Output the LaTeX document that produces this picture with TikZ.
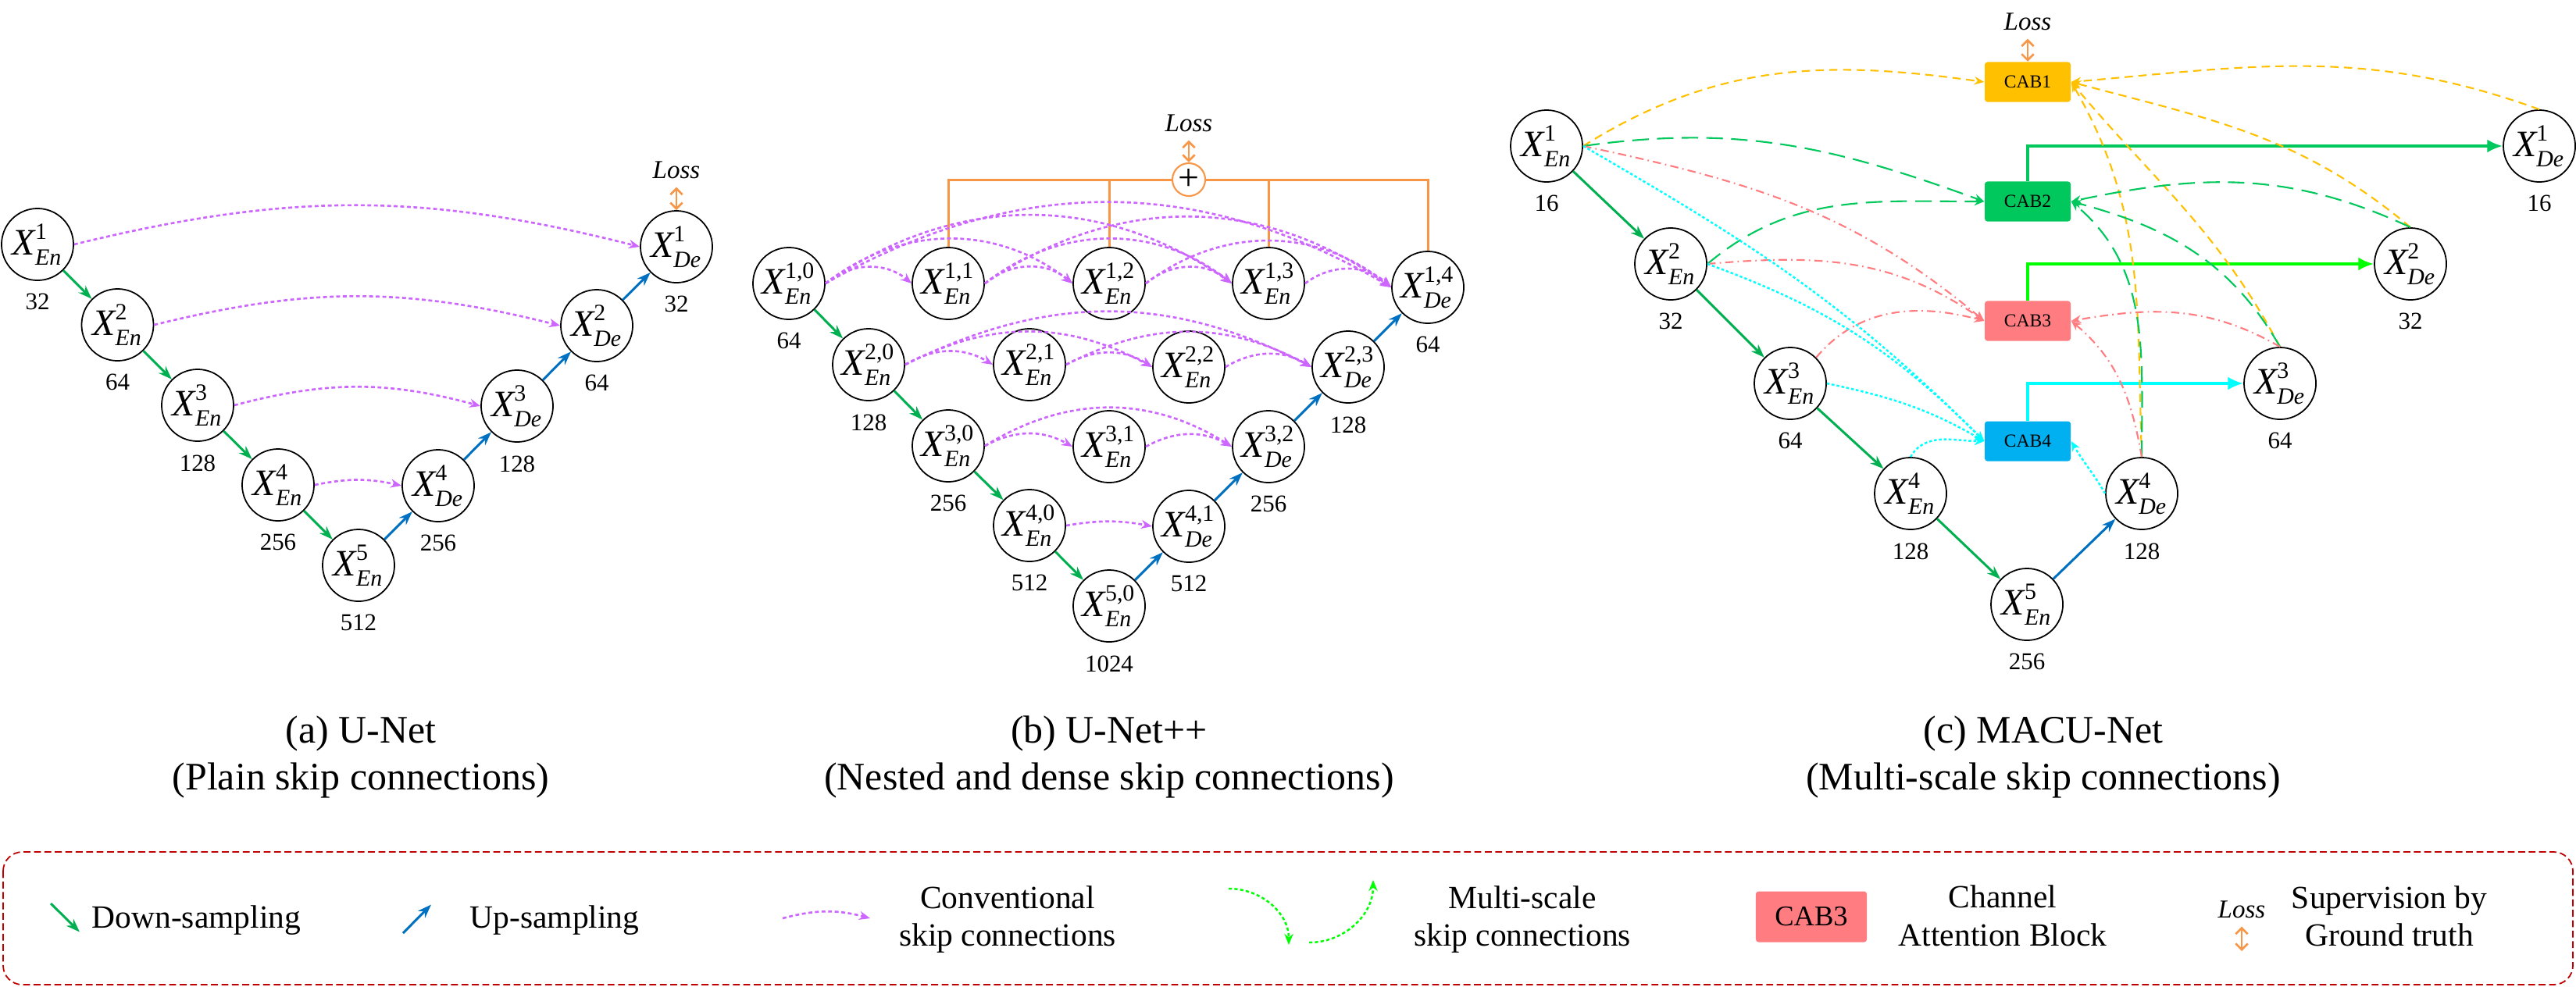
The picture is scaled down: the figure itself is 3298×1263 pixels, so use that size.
\documentclass[tikz,border=0pt]{standalone}
\usepackage{amsmath}
\usepackage{fontspec}
\setmainfont{Liberation Serif}
\usetikzlibrary{arrows.meta,positioning}
\DeclareMathSizes{13.6}{13.6}{8.5}{6.5}
\definecolor{dgreen}{HTML}{00B050}
\definecolor{dblue}{HTML}{0070C0}
\definecolor{violet1}{HTML}{CC66FF}
\definecolor{lossor}{HTML}{F79646}
\definecolor{cabor}{HTML}{FFC000}
\definecolor{cabgr}{HTML}{00C85C}
\definecolor{cabred}{HTML}{FF7C80}
\definecolor{cabbl}{HTML}{00B0F0}
\definecolor{brgreen}{HTML}{00FF00}
\definecolor{brcyan}{HTML}{00FFFF}
\definecolor{legred}{HTML}{C00000}
\newcommand{\xn}[2]{$\text{\itshape X}^{\text{#1}}_{\text{\itshape #2}}$}
\begin{document}
\begin{tikzpicture}[
x=0.01cm, y=0.01cm,
>=Stealth,
circ/.style={draw, circle, minimum size=0.92cm, inner sep=0pt, line width=0.5pt, font=\fontsize{13.6}{16}\selectfont},
num/.style={inner sep=1pt, font=\fontsize{8.8}{10}\selectfont},
downarr/.style={draw=dgreen, line width=0.85pt, -{Stealth[length=5pt,width=3.6pt]}},
uparr/.style={draw=dblue, line width=0.85pt, -{Stealth[length=5pt,width=3.6pt]}},
skiparr/.style={draw=violet1, line width=0.75pt, dash pattern=on 1.4pt off 1pt, -{Stealth[length=4pt,width=3.2pt]}},
loss/.style={inner sep=3pt, anchor=base, font=\itshape\fontsize{9.4}{11}\selectfont},
suparr/.style={draw=lossor, line width=0.75pt, {Straight Barb[length=2.2pt,width=4.4pt]}-{Straight Barb[length=2.2pt,width=4.4pt]}},
sumline/.style={draw=lossor, line width=0.85pt},
plus/.style={draw=lossor, circle, minimum size=0.42cm, inner sep=0pt, line width=0.6pt, font=\fontsize{13.6}{16}\selectfont},
cab/.style={rectangle, rounded corners=1pt, minimum width=1.1cm, minimum height=0.51cm, inner sep=0pt, font=\fontsize{6.7}{8}\selectfont},
cabout/.style={line width=1.1pt, -{Latex[length=5.6pt,width=4.8pt]}},
o1/.style={draw=cabor, line width=0.6pt, dash pattern=on 3pt off 2pt, -{Stealth[length=3.6pt,width=3pt]}},
g1/.style={draw=cabgr, line width=0.6pt, dash pattern=on 6pt off 3pt, -{Stealth[length=3.6pt,width=3pt]}},
r1/.style={draw=cabred, line width=0.6pt, dash pattern=on 3pt off 1.5pt on 0.5pt off 1.5pt, -{Stealth[length=3.6pt,width=3pt]}},
c1/.style={draw=brcyan, line width=0.7pt, dash pattern=on 1pt off 0.8pt, -{Stealth[length=3.6pt,width=3pt]}},
msarr/.style={draw=brgreen, line width=0.7pt, dash pattern=on 1.2pt off 0.9pt, -{Stealth[length=4pt,width=3.2pt]}},
legbox/.style={draw=legred, line width=0.5pt, dash pattern=on 2.5pt off 1.3pt, rounded corners=7pt},
legtxt/.style={inner sep=0pt, anchor=base, font=\fontsize{11.8}{13.5}\selectfont},
capt/.style={inner sep=0pt, anchor=base, font=\fontsize{14.2}{17}\selectfont}
]
\useasboundingbox (0,0) rectangle (3298,-1263);

%(a) U-Net
\node[circ] (ae1) at (48,-313) {\xn{1}{En}};
\node[circ] (ae2) at (150.5,-416) {\xn{2}{En}};
\node[circ] (ae3) at (253,-519) {\xn{3}{En}};
\node[circ] (ae4) at (356,-621) {\xn{4}{En}};
\node[circ] (ae5) at (459,-724) {\xn{5}{En}};
\node[circ] (ad4) at (561,-622) {\xn{4}{De}};
\node[circ] (ad3) at (662,-520) {\xn{3}{De}};
\node[circ] (ad2) at (764,-417) {\xn{2}{De}};
\node[circ] (ad1) at (866,-316) {\xn{1}{De}};

\node[num] (ae1n) [below=3.5pt of ae1] {32};
\node[num] (ae2n) [below=3.5pt of ae2] {64};
\node[num] (ae3n) [below=3.5pt of ae3] {128};
\node[num] (ae4n) [below=3.5pt of ae4] {256};
\node[num] (ae5n) [below=3.5pt of ae5] {512};
\node[num] (ad4n) [below=3.5pt of ad4] {256};
\node[num] (ad3n) [below=3.5pt of ad3] {128};
\node[num] (ad2n) [below=3.5pt of ad2] {64};
\node[num] (ad1n) [below=3.5pt of ad1] {32};

\node[loss] (lossa) at (866,-228) {Loss};
\path[suparr] (lossa.south) -- (ad1.north);

\path[downarr] (ae1) -- (ae2);
\path[downarr] (ae2) -- (ae3);
\path[downarr] (ae3) -- (ae4);
\path[downarr] (ae4) -- (ae5);
\path[uparr] (ae5) -- (ad4);
\path[uparr] (ad4) -- (ad3);
\path[uparr] (ad3) -- (ad2);
\path[uparr] (ad2) -- (ad1);

\path[skiparr] (ae1.east) to[bend left=14] (ad1.west);
\path[skiparr] (ae2.east) to[bend left=14] (ad2.west);
\path[skiparr] (ae3.east) to[bend left=15] (ad3.west);
\path[skiparr] (ae4.east) to[bend left=12] (ad4.west);

%(b) U-Net++
\node[circ] (b10) at (1010,-363) {\xn{1,0}{En}};
\node[circ] (b11) at (1214,-363) {\xn{1,1}{En}};
\node[circ] (b12) at (1420,-363) {\xn{1,2}{En}};
\node[circ] (b13) at (1624,-363) {\xn{1,3}{En}};
\node[circ] (b14) at (1828,-368) {\xn{1,4}{De}};
\node[circ] (b20) at (1112,-467) {\xn{2,0}{En}};
\node[circ] (b21) at (1318,-467) {\xn{2,1}{En}};
\node[circ] (b22) at (1522,-470) {\xn{2,2}{En}};
\node[circ] (b23) at (1726,-470) {\xn{2,3}{De}};
\node[circ] (b30) at (1214,-571) {\xn{3,0}{En}};
\node[circ] (b31) at (1420,-572) {\xn{3,1}{En}};
\node[circ] (b32) at (1624,-572) {\xn{3,2}{De}};
\node[circ] (b40) at (1318,-673) {\xn{4,0}{En}};
\node[circ] (b41) at (1522,-674) {\xn{4,1}{De}};
\node[circ] (b50) at (1420,-776) {\xn{5,0}{En}};

\node[num] (b10n) [below=3.5pt of b10] {64};
\node[num] (b14n) [below=3.5pt of b14] {64};
\node[num] (b20n) [below=3.5pt of b20] {128};
\node[num] (b23n) [below=3.5pt of b23] {128};
\node[num] (b30n) [below=3.5pt of b30] {256};
\node[num] (b32n) [below=3.5pt of b32] {256};
\node[num] (b40n) [below=3.5pt of b40] {512};
\node[num] (b41n) [below=3.5pt of b41] {512};
\node[num] (b50n) [below=3.5pt of b50] {1024};

\node[plus] (sum) at (1522,-230) {+};
\node[loss] (lossb) at (1522,-168) {Loss};
\path[suparr] (lossb.south) -- (sum.north);
\path[sumline] (b11.north) |- (sum.west);
\path[sumline] (b14.north) |- (sum.east);
\path[sumline] (b12.north) -- (b12.north |- sum.center);
\path[sumline] (b13.north) -- (b13.north |- sum.center);

\path[downarr] (b10) -- (b20);
\path[downarr] (b20) -- (b30);
\path[downarr] (b30) -- (b40);
\path[downarr] (b40) -- (b50);
\path[uparr] (b50) -- (b41);
\path[uparr] (b41) -- (b32);
\path[uparr] (b32) -- (b23);
\path[uparr] (b23) -- (b14);

\path[skiparr] (b10.east) to[bend left=40] (b11.west);
\path[skiparr] (b10.east) to[bend left=38] (b12.west);
\path[skiparr] (b10.east) to[bend left=35] (b13.west);
\path[skiparr] (b10.east) to[bend left=30] (b14.west);
\path[skiparr] (b11.east) to[bend left=40] (b12.west);
\path[skiparr] (b11.east) to[bend left=38] (b13.west);
\path[skiparr] (b11.east) to[bend left=35] (b14.west);
\path[skiparr] (b12.east) to[bend left=40] (b13.west);
\path[skiparr] (b12.east) to[bend left=38] (b14.west);
\path[skiparr] (b13.east) to[bend left=40] (b14.west);

\path[skiparr] (b20.east) to[bend left=31] (b21.west);
\path[skiparr] (b20.east) to[bend left=28] (b22.west);
\path[skiparr] (b20.east) to[bend left=27] (b23.west);
\path[skiparr] (b21.east) to[bend left=31] (b22.west);
\path[skiparr] (b21.east) to[bend left=28] (b23.west);
\path[skiparr] (b22.east) to[bend left=31] (b23.west);

\path[skiparr] (b30.east) to[bend left=29] (b31.west);
\path[skiparr] (b30.east) to[bend left=32] (b32.west);
\path[skiparr] (b31.east) to[bend left=29] (b32.west);

\path[skiparr] (b40.east) to[bend left=10] (b41.west);

%(c) MACU-Net
\node[circ] (ce1) at (1980,-187) {\xn{1}{En}};
\node[circ] (ce2) at (2139,-338) {\xn{2}{En}};
\node[circ] (ce3) at (2292,-491) {\xn{3}{En}};
\node[circ] (ce4) at (2446,-632) {\xn{4}{En}};
\node[circ] (ce5) at (2595,-774) {\xn{5}{En}};
\node[circ] (cd4) at (2742,-632) {\xn{4}{De}};
\node[circ] (cd3) at (2919,-491) {\xn{3}{De}};
\node[circ] (cd2) at (3086,-338) {\xn{2}{De}};
\node[circ] (cd1) at (3251,-187) {\xn{1}{De}};

\node[num] (ce1n) [below=3.5pt of ce1] {16};
\node[num] (ce2n) [below=3.5pt of ce2] {32};
\node[num] (ce3n) [below=3.5pt of ce3] {64};
\node[num] (ce4n) [below=3.5pt of ce4] {128};
\node[num] (ce5n) [below=3.5pt of ce5] {256};
\node[num] (cd4n) [below=3.5pt of cd4] {128};
\node[num] (cd3n) [below=3.5pt of cd3] {64};
\node[num] (cd2n) [below=3.5pt of cd2] {32};
\node[num] (cd1n) [below=3.5pt of cd1] {16};

\node[cab, fill=cabor] (cab1) at (2596,-105) {CAB1};
\node[cab, fill=cabgr] (cab2) at (2596,-258) {CAB2};
\node[cab, fill=cabred] (cab3) at (2596,-411) {CAB3};
\node[cab, fill=cabbl] (cab4) at (2596,-565) {CAB4};

\node[loss] (lossc) at (2596,-38) {Loss};
\path[suparr] (lossc.south) -- (cab1.north);

\path[cabout, draw=cabgr] (cab2.north) |- (cd1.west);
\path[cabout, draw=brgreen] (cab3.north) |- (cd2.west);
\path[cabout, draw=brcyan] (cab4.north) |- (cd3.west);

\path[downarr] (ce1) -- (ce2);
\path[downarr] (ce2) -- (ce3);
\path[downarr] (ce3) -- (ce4);
\path[downarr] (ce4) -- (ce5);
\path[uparr] (ce5) -- (cd4);

\path[o1] (ce1.east) to[out=32,in=172] (cab1.west);
\path[o1] (cd1.north) to[out=160,in=5] (cab1.east);
\path[o1] (cd2.north) to[out=140,in=-15] (cab1.east);
\path[o1] (cd3.north) to[out=118,in=-50] (cab1.east);
\path[o1] (cd4.north) to[out=92,in=-60] (cab1.east);

\path[g1] (ce1.east) to[out=8,in=160] (cab2.west);
\path[g1] (ce2.east) to[out=40,in=180] (cab2.west);
\path[g1] (cd2.north) to[out=155,in=12] (cab2.east);
\path[g1] (cd3.north) to[out=120,in=-15] (cab2.east);
\path[g1] (cd4.north) to[out=90,in=-40] (cab2.east);

\path[r1] (ce1.east) to[out=-12,in=140] (cab3.west);
\path[r1] (ce2.east) to[out=5,in=145] (cab3.west);
\path[r1] (ce3.north east) to[out=50,in=165] (cab3.west);
\path[r1] (cd3.north) to[out=150,in=10] (cab3.east);
\path[r1] (cd4.north) to[out=100,in=-40] (cab3.east);

\path[c1] (ce1.east) to[out=-30,in=135] (cab4.west);
\path[c1] (ce2.east) to[out=-20,in=135] (cab4.west);
\path[c1] (ce3.east) to[out=-12,in=150] (cab4.west);
\path[c1] (ce4.north) to[out=60,in=180] (cab4.west);
\path[c1] (cd4.west) to[out=120,in=-60] (cab4.east);

%captions
\node[capt] (capa1) at (462,-951.5) {(a) U-Net};
\node[capt] (capa2) at (462,-1011) {(Plain skip connections)};
\node[capt] (capb1) at (1420,-951.5) {(b) U-Net++};
\node[capt] (capb2) at (1420,-1011) {(Nested and dense skip connections)};
\node[capt] (capc1) at (2616,-951.5) {(c) MACU-Net};
\node[capt] (capc2) at (2616,-1011) {(Multi-scale skip connections)};

%legend
\draw[legbox] (4,-1091) rectangle (3294,-1261);

\coordinate (ld1) at (65,-1157);
\coordinate (ld2) at (102,-1193.5);
\path[downarr] (ld1) -- (ld2);
\node[legtxt, anchor=base west] (ldown) at (117,-1188) {Down-sampling};

\coordinate (lu1) at (516,-1195);
\coordinate (lu2) at (552,-1158.5);
\path[uparr] (lu1) -- (lu2);
\node[legtxt, anchor=base west] (lup) at (601,-1188) {Up-sampling};

\coordinate (ls1) at (1002,-1176);
\coordinate (ls2) at (1114,-1176);
\path[skiparr] (ls1) to[bend left=15] (ls2);
\node[legtxt] (lskip1) at (1290,-1163.7) {Conventional};
\node[legtxt] (lskip2) at (1290,-1211) {skip connections};

\coordinate (lm1) at (1573,-1138);
\coordinate (lm2) at (1650,-1210);
\coordinate (lm3) at (1676,-1207);
\coordinate (lm4) at (1758,-1127);
\path[msarr] (lm1) to[out=0,in=90] (lm2);
\path[msarr] (lm3) to[out=0,in=-90] (lm4);
\node[legtxt] (lms1) at (1949,-1163.7) {Multi-scale};
\node[legtxt] (lms2) at (1949,-1211) {skip connections};

\node[cab, fill=cabred, minimum width=1.42cm, minimum height=0.65cm, font=\fontsize{10.4}{12}\selectfont] (lcab) at (2319,-1174) {CAB3};
\node[legtxt] (lcab1) at (2564,-1162) {Channel};
\node[legtxt] (lcab2) at (2564,-1211) {Attention Block};

\node[loss] (lossl) at (2870,-1175) {Loss};
\coordinate (lsup) at (2870,-1218);
\path[suparr] (lossl.south) -- (lsup);
\node[legtxt] (lsup1) at (3059,-1163.7) {Supervision by};
\node[legtxt] (lsup2) at (3059,-1211) {Ground truth};

\end{tikzpicture}
\end{document}
